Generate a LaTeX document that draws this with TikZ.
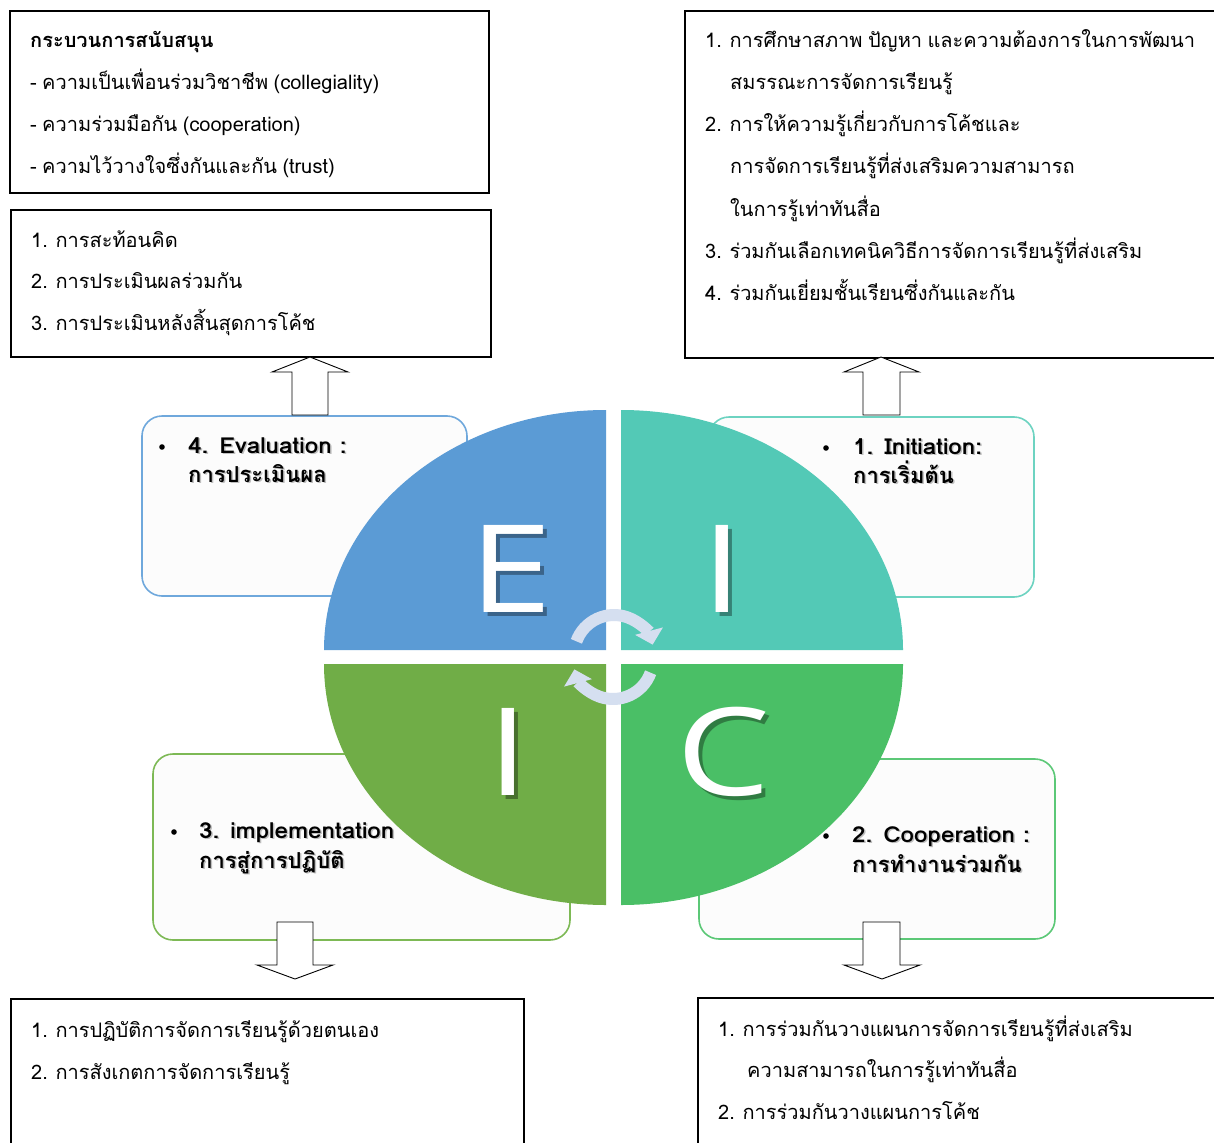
\documentclass[tikz,border=0pt]{standalone}
\usepackage{fontspec}
\setmainfont{Carlito}
\newfontfamily\thaifont[Script=Thai, WordSpace=0.8]{Loma}
\newfontfamily\thaiwide[Script=Thai, FakeStretch=1.1]{Loma}
\newfontfamily\letterfont[FakeStretch=1.22]{Open Sans}
\usetikzlibrary{arrows.meta}
\definecolor{qblue}{HTML}{5B9BD5}
\definecolor{qteal}{HTML}{53C9B6}
\definecolor{qlgreen}{HTML}{70AD47}
\definecolor{qgreen}{HTML}{4ABF66}
\definecolor{bblue}{HTML}{6FA8DC}
\definecolor{bteal}{HTML}{6DD3C1}
\definecolor{blgreen}{HTML}{7DB955}
\definecolor{bgreen}{HTML}{5CC877}
\definecolor{boxfill}{HTML}{FCFCFC}
\definecolor{cyc}{HTML}{D5DFF0}
\tikzset{
  txt/.style={anchor=base west, inner sep=0pt, font=\thaifont\fontsize{20}{20}\selectfont},
  ttl/.style={txt, font=\thaifont\bfseries\fontsize{20}{20}\selectfont},
  lbl/.style={anchor=base west, inner sep=0pt, font=\thaifont\bfseries\fontsize{22}{22}\selectfont},
  lblw/.style={anchor=base west, inner sep=0pt, font=\thaiwide\bfseries\fontsize{22}{22}\selectfont},
  lblshadow/.style={lbl, text=black!45, opacity=0.55},
  lblwshadow/.style={lblw, text=black!45, opacity=0.55},
  sqbox/.style={draw=black, line width=1.8pt, fill=white, inner sep=0pt, anchor=north west},
  rbox/.style={rounded corners=20pt, fill=boxfill, line width=1.6pt},
  blockarrow/.style={draw=black, line width=0.9pt, fill=white},
  letter/.style={text=white, font=\letterfont\fontsize{122}{122}\selectfont, anchor=base, inner sep=0pt},
  lettershadow/.style={letter, text=black, opacity=0.35},
  cycarrow/.style={line width=12pt, draw=cyc, -{Triangle[length=14pt, width=28pt]}},
}
\begin{document}
\begin{tikzpicture}[x=1pt, y=-1pt]
\useasboundingbox (0,0) rectangle (1214,1142);
\clip (0,0) rectangle (1214,1142);
\fill[white] (0,0) rectangle (1214,1142);

% square boxes
\node[sqbox, minimum width=479pt, minimum height=182pt] (support) at (9,10) {};
\node[sqbox, minimum width=480pt, minimum height=147pt] (evallist) at (10,209) {};
\node[sqbox, minimum width=540pt, minimum height=347pt] (initlist) at (684,10) {};
\node[sqbox, minimum width=513pt, minimum height=160pt] (impllist) at (10,998) {};
\node[sqbox, minimum width=525pt, minimum height=160pt] (cooplist) at (697,997) {};

% texts of square boxes
\node[ttl] (s0) at (30,48) {กระบวนการสนับสนุน};
\node[txt] (s1) at (30,90) {- ความเป็นเพื่อนร่วมวิชาชีพ (collegiality)};
\node[txt] (s2) at (30,132) {- ความร่วมมือกัน (cooperation)};
\node[txt] (s3) at (30,174) {- ความไว้วางใจซึ่งกันและกัน (trust)};

\node[txt] (e1) at (31,247) {1. การสะท้อนคิด};
\node[txt] (e2) at (31,288) {2. การประเมินผลร่วมกัน};
\node[txt] (e3) at (31,330) {3. การประเมินหลังสิ้นสุดการโค้ช};

\node[txt] (i1) at (705,48) {1. การศึกษาสภาพ ปัญหา และความต้องการในการพัฒนา};
\node[txt] (i1b) at (730,90) {สมรรณะการจัดการเรียนรู้};
\node[txt] (i2) at (705,132) {2. การให้ความรู้เกี่ยวกับการโค้ชและ};
\node[txt] (i2b) at (730,174) {การจัดการเรียนรู้ที่ส่งเสริมความสามารถ};
\node[txt] (i2c) at (730,216) {ในการรู้เท่าทันสื่อ};
\node[txt] (i3) at (705,258) {3. ร่วมกันเลือกเทคนิควิธีการจัดการเรียนรู้ที่ส่งเสริม};
\node[txt] (i4) at (705,300) {4. ร่วมกันเยี่ยมชั้นเรียนซึ่งกันและกัน};

\node[txt] (p1) at (31,1037) {1. การปฏิบัติการจัดการเรียนรู้ด้วยตนเอง};
\node[txt] (p2) at (31,1079) {2. การสังเกตการจัดการเรียนรู้};

\node[txt] (c1) at (718,1036) {1. การร่วมกันวางแผนการจัดการเรียนรู้ที่ส่งเสริม};
\node[txt] (c1b) at (747,1077) {ความสามารถในการรู้เท่าทันสื่อ};
\node[txt] (c2) at (718,1119) {2. การร่วมกันวางแผนการโค้ช};

% rounded label boxes
\draw[rbox, draw=bblue] (142,416) rectangle (467,596);
\draw[rbox, draw=bteal] (709,417) rectangle (1034,597);
\draw[rbox, draw=blgreen] (153,754) rectangle (570,940);
\draw[rbox, draw=bgreen] (699,759) rectangle (1055,939);

% block arrows
\draw[blockarrow] (310,357) -- (348,372) -- (328,372) -- (328,415) -- (292,415) -- (292,372) -- (272,372) -- cycle;
\draw[blockarrow] (881,357) -- (919,372) -- (900,372) -- (900,415) -- (863,415) -- (863,372) -- (844,372) -- cycle;
\draw[blockarrow] (295,979) -- (333,965) -- (313,965) -- (313,922) -- (277,922) -- (277,965) -- (257,965) -- cycle;
\draw[blockarrow] (882,979) -- (920,965) -- (900,965) -- (900,922) -- (863,922) -- (863,965) -- (844,965) -- cycle;

% labels
\foreach \x/\y in {162/447, 826/448, 174/832, 826/836} \fill (\x,\y) circle (2.8pt);
\node[lblwshadow] at (189.5,454.5) {4. Evaluation :};
\node[lblw] (le1) at (188,453) {4. Evaluation :};
\node[lblshadow] at (189.5,483.5) {การประเมินผล};
\node[lbl] (le2) at (188,482) {การประเมินผล};
\node[lblwshadow] at (854.5,455.5) {1. Initiation:};
\node[lblw] (li1) at (853,454) {1. Initiation:};
\node[lblshadow] at (854.5,484.5) {การเริ่มต้น};
\node[lbl] (li2) at (853,483) {การเริ่มต้น};
\node[lblwshadow] at (200.5,839.5) {3. implementation};
\node[lblw] (lp1) at (199,838) {3. implementation};
\node[lblshadow] at (200.5,869.5) {การสู่การปฏิบัติ};
\node[lbl] (lp2) at (199,868) {การสู่การปฏิบัติ};
\node[lblwshadow] at (853.5,843.5) {2. Cooperation :};
\node[lblw] (lc1) at (852,842) {2. Cooperation :};
\node[lblshadow] at (853.5,873.5) {การทำงานร่วมกัน};
\node[lbl] (lc2) at (852,872) {การทำงานร่วมกัน};

% quarter ellipses
\fill[qblue] (606,650) -- (324,650) arc[start angle=180, end angle=270, x radius=282, y radius=240] -- cycle;
\fill[qteal] (621,650) -- (903,650) arc[start angle=0, end angle=-90, x radius=282, y radius=240] -- cycle;
\fill[qlgreen] (606,664) -- (324,664) arc[start angle=180, end angle=90, x radius=282, y radius=241] -- cycle;
\fill[qgreen] (621,664) -- (903,664) arc[start angle=0, end angle=90, x radius=282, y radius=241] -- cycle;

% letters
\node[lettershadow] at (515,616) {E};
\node[letter] (E) at (511,612) {E};
\node[lettershadow] at (726,616) {I};
\node[letter] (I1) at (722,612) {I};
\node[lettershadow] at (512,799) {I};
\node[letter] (I2) at (508,795) {I};
\node[lettershadow] at (727,799) {C};
\node[letter] (C) at (723,795) {C};

% cycle arrows
\draw[cycarrow] (614,655) ++(200:40) arc[start angle=200, end angle=345, radius=40];
\draw[cycarrow] (613,659) ++(20:40) arc[start angle=20, end angle=165, radius=40];
\end{tikzpicture}
\end{document}
